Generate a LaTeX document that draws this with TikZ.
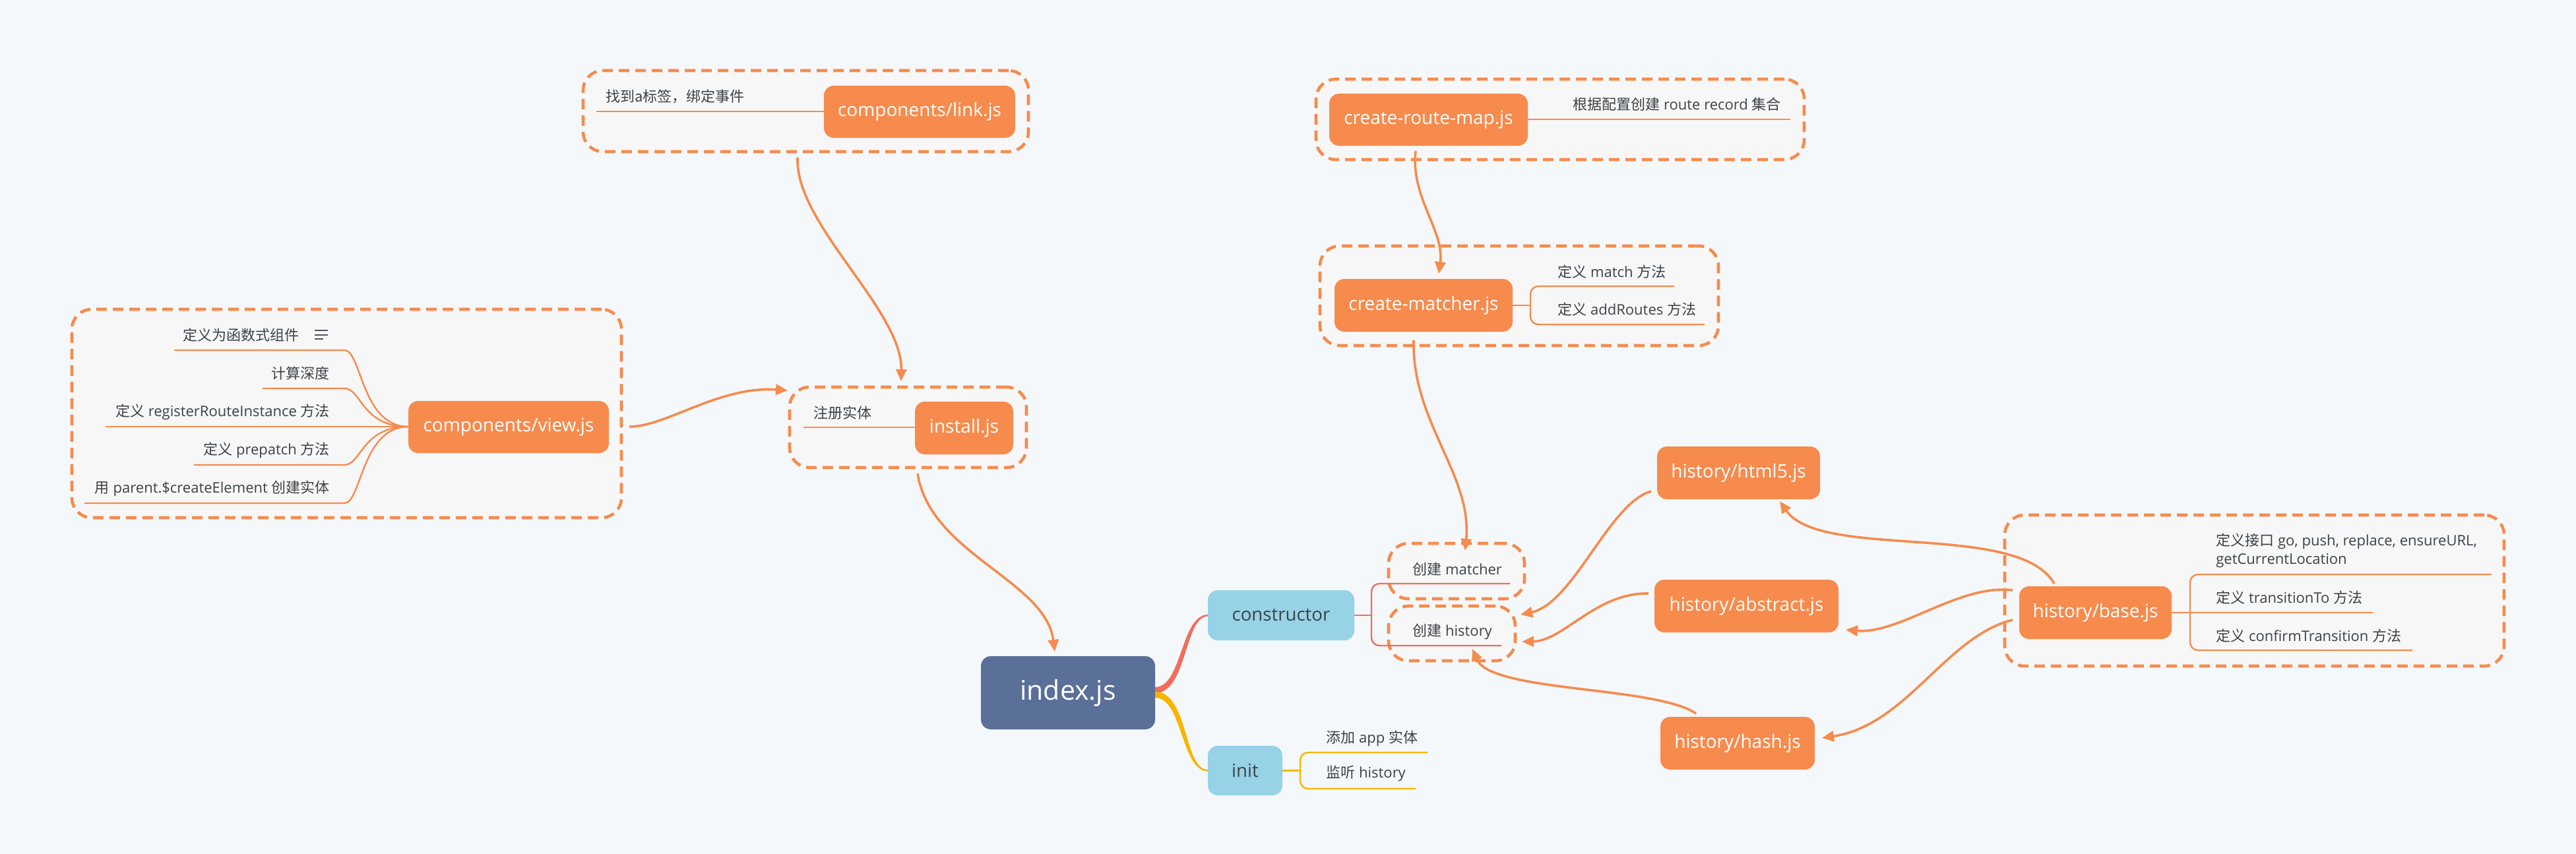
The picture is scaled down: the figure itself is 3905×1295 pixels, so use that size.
\documentclass[tikz,border=0pt]{standalone}
\usepackage{fontspec}
\setmainfont{Open Sans}
\newfontfamily\cjk{Noto Sans CJK SC}
\usetikzlibrary{arrows.meta}
\definecolor{bg}{HTML}{F4F8FB}
\definecolor{org}{HTML}{F68B4D}
\definecolor{grpfill}{HTML}{F7F7F7}
\definecolor{txt}{HTML}{3C4248}
\definecolor{navy}{HTML}{5A7098}
\definecolor{sky}{HTML}{97D2E6}
\definecolor{redl}{HTML}{F26D5B}
\definecolor{yel}{HTML}{F7B500}
\definecolor{icon}{HTML}{50565C}
\begin{document}
\begin{tikzpicture}[x=0.5pt,y=-0.5pt,
  obox/.style={fill=org, rounded corners=7.5pt, text=white, font=\fontsize{14}{16}\selectfont, inner sep=0pt},
  bluebox/.style={fill=sky, rounded corners=7.5pt, text=txt, font=\fontsize{13.8}{16}\selectfont, inner sep=0pt},
  grp/.style={draw=org, fill=grpfill, line width=2.3pt, dash pattern=on 8pt off 4.5pt, rounded corners=15pt, inner sep=0pt},
  lbl/.style={text=txt, font=\fontsize{11}{14}\selectfont, inner sep=0pt, anchor=west},
  rlbl/.style={text=txt, font=\fontsize{11}{14}\selectfont, inner sep=0pt, anchor=east},
  uline/.style={draw=org, line width=1.2pt},
  conn/.style={draw=org, line width=1.8pt, -{Triangle[length=9pt,width=8pt]}},
]
\useasboundingbox (0,0) rectangle (3905,1295);
\fill[bg] (0,0) rectangle (3905,1295);

% ---- groups
\node[grp, minimum width=337.5pt, minimum height=61.5pt] (gLink) at (1221.5,168.5) {};
\node[grp, minimum width=370pt, minimum height=61pt] (gMap) at (2365,181) {};
\node[grp, minimum width=302pt, minimum height=75.5pt] (gMatcher) at (2303,448.5) {};
\node[grp, minimum width=416.5pt, minimum height=158pt] (gView) at (525.5,627) {};
\node[grp, minimum width=179.5pt, minimum height=61pt] (gInstall) at (1376.5,648) {};
\node[grp, minimum width=103pt, minimum height=42pt] (gCM) at (2208,866) {};
\node[grp, minimum width=96pt, minimum height=41.5pt] (gCH) at (2201,960.5) {};
\node[grp, minimum width=378.5pt, minimum height=114.5pt] (gBase) at (3417.5,895.5) {};

% ---- underlines / brackets
\draw[uline] (904,169) -- (1249,169);
\draw[uline] (1218,648) -- (1387,648);
\draw[uline] (2316,181) -- (2714,181);
\draw[uline] (2293,463) -- (2320,463);
\draw[uline, rounded corners=6pt] (2538,434) -- (2320,434) -- (2320,492) -- (2584,492);
\foreach \s/\y in {264/531, 398/589, 294/705, 128/763}{
  \draw[uline] (\s,\y) -- (522,\y) .. controls (548,\y) and (548,647) .. (619,647);
}
\draw[uline] (160,647) -- (619,647);
\draw[draw=redl, line width=1.2pt] (2053,933) -- (2079,933);
\draw[draw=redl, line width=1.2pt, rounded corners=6pt] (2289,885) -- (2079,885) -- (2079,979) -- (2276,979);
\draw[draw=yel, line width=1.2pt] (1944,1168.5) -- (1971,1168.5);
\draw[draw=yel, line width=1.2pt, rounded corners=6pt] (2164,1141) -- (1971,1141) -- (1971,1196) -- (2146,1196);
\draw[uline] (3292,929) -- (3597,929);
\draw[uline, rounded corners=6pt] (3777,871) -- (3320,871) -- (3320,986) -- (3657,986);

% ---- tapered branches from index.js
\fill[redl] (1751,1042) .. controls (1792,1042) and (1790,932) .. (1831,932) -- (1831,934.5) .. controls (1795,934.5) and (1800,1051) .. (1751,1051) -- cycle;
\fill[yel] (1751,1049) .. controls (1802,1049) and (1794,1167) .. (1831,1167) -- (1831,1169.5) .. controls (1790,1169.5) and (1793,1058) .. (1751,1058) -- cycle;

% ---- nodes
\node[obox, minimum width=145pt, minimum height=39.5pt] (link) at (1394,169.5) {components/link.js};
\node[obox, minimum width=150.5pt, minimum height=39.5pt] (map) at (2165.5,181.5) {create-route-map.js};
\node[obox, minimum width=135pt, minimum height=40pt] (matcher) at (2158,463) {create-matcher.js};
\node[obox, minimum width=152pt, minimum height=39.5pt] (view) at (771,647.5) {components/view.js};
\node[obox, minimum width=74.5pt, minimum height=40pt] (install) at (1461.5,649) {install.js};
\node[obox, minimum width=123.5pt, minimum height=40pt] (html5) at (2635.5,717) {history/html5.js};
\node[obox, minimum width=139.5pt, minimum height=40pt] (abstract) at (2647.5,919) {history/abstract.js};
\node[obox, minimum width=117pt, minimum height=40pt] (hash) at (2634,1127) {history/hash.js};
\node[obox, minimum width=115.5pt, minimum height=40pt] (base) at (3176.5,929) {history/base.js};
\node[fill=navy, rounded corners=7.5pt, text=white, font=\fontsize{20.5}{24}\selectfont, inner sep=0pt, minimum width=132pt, minimum height=55.5pt] (index) at (1619,1050.5) {index.js};
\node[bluebox, minimum width=111pt, minimum height=38pt] (ctor) at (1942,933) {constructor};
\node[bluebox, minimum width=56.5pt, minimum height=37.5pt] (init) at (1887.5,1168.5) {init};

% ---- labels
\node[lbl] (lLink) at (918,146) {{\cjk 找到a标签，绑定事件}};
\node[lbl] (lInstall) at (1233,626) {{\cjk 注册实体}};
\node[lbl] (lMap) at (2384,158) {{\cjk 根据配置创建} route record {\cjk 集合}};
\node[lbl] (lMatch) at (2361,412) {{\cjk 定义} match {\cjk 方法}};
\node[lbl] (lAdd) at (2361,469) {{\cjk 定义} addRoutes {\cjk 方法}};
\node[rlbl] (lV1) at (454,508) {{\cjk 定义为函数式组件}};
\draw[icon, line width=1pt] (477,501) -- (497,501) (477,507.5) -- (497,507.5) (477,514) -- (490,514);
\node[rlbl] (lV2) at (500,566) {{\cjk 计算深度}};
\node[rlbl] (lV3) at (500,625) {{\cjk 定义} registerRouteInstance {\cjk 方法}};
\node[rlbl] (lV4) at (500,683) {{\cjk 定义} prepatch {\cjk 方法}};
\node[rlbl] (lV5) at (500,741) {{\cjk 用} parent.\$createElement {\cjk 创建实体}};
\node[lbl] (lCM) at (2141,863) {{\cjk 创建} matcher};
\node[lbl] (lCH) at (2141,958) {{\cjk 创建} history};
\node[lbl] (lApp) at (2010,1120) {{\cjk 添加} app {\cjk 实体}};
\node[lbl] (lListen) at (2010,1173) {{\cjk 监听} history};
\node[lbl, align=left] (lB1) at (3359,835) {{\cjk 定义接口} go, push, replace, ensureURL,\\getCurrentLocation};
\node[lbl] (lB2) at (3359,906) {{\cjk 定义} transitionTo {\cjk 方法}};
\node[lbl] (lB3) at (3359,964) {{\cjk 定义} confirmTransition {\cjk 方法}};

% ---- connectors
\coordinate (cLinkOut) at (1209,239);
\coordinate (cInstallTop) at (1366,578);
\coordinate (cViewOut) at (954,647);
\coordinate (cInstallIn) at (1194,592);
\coordinate (cInstallOut) at (1391,718);
\coordinate (cIndexIn) at (1599,988);
\coordinate (cMapOut) at (2146,229);
\coordinate (cMatcherIn) at (2181,415);
\coordinate (cMatcherOut) at (2143,516);
\coordinate (cCMIn) at (2221,835);
\coordinate (cBaseTop) at (3114,885);
\coordinate (cBaseL1) at (3051,895);
\coordinate (cBaseL2) at (3051,940);
\coordinate (cHtmlIn) at (2698,760);
\coordinate (cAbsIn) at (2798,955);
\coordinate (cHashIn) at (2762,1119);
\coordinate (cHtmlOut) at (2503,745);
\coordinate (cAbsOut) at (2499,900);
\coordinate (cHashOut) at (2571,1082);
\coordinate (cCH1) at (2305,932);
\coordinate (cCH2) at (2307,973);
\coordinate (cCH3) at (2232,984);

\draw[conn] (cLinkOut) .. controls (1205,340) and (1368,470) .. (cInstallTop);
\draw[conn] (cViewOut) .. controls (1010,647) and (1090,585) .. (cInstallIn);
\draw[conn] (cInstallOut) .. controls (1410,840) and (1585,880) .. (cIndexIn);
\draw[conn] (cMapOut) .. controls (2138,300) and (2190,350) .. (cMatcherIn);
\draw[conn] (cMatcherOut) .. controls (2140,640) and (2232,720) .. (cCMIn);
\draw[conn] (cBaseTop) .. controls (3060,790) and (2760,850) .. (cHtmlIn);
\draw[conn] (cBaseL1) .. controls (2970,885) and (2880,962) .. (cAbsIn);
\draw[conn] (cBaseL2) .. controls (2950,965) and (2890,1100) .. (cHashIn);
\draw[conn] (cHtmlOut) .. controls (2440,762) and (2385,915) .. (cCH1);
\draw[conn] (cAbsOut) .. controls (2420,898) and (2370,972) .. (cCH2);
\draw[conn] (cHashOut) .. controls (2510,1040) and (2260,1050) .. (cCH3);
\end{tikzpicture}
\end{document}
